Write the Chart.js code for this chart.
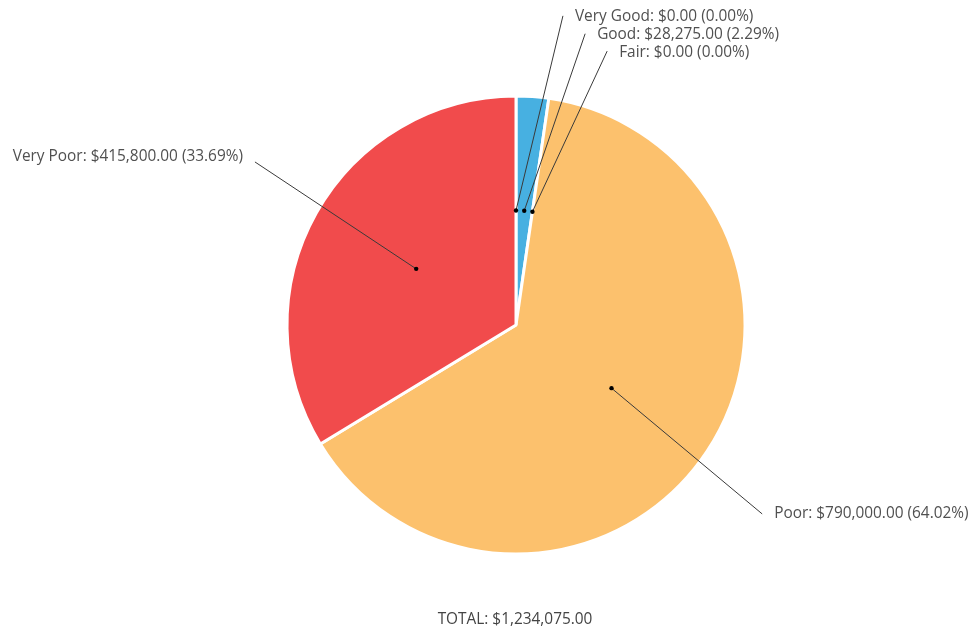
<!DOCTYPE html>
<html>
<head>
	<title></title>
	<script src="https://cdn.jsdelivr.net/npm/chart.js@4.4.1/dist/chart.umd.min.js"></script>
	<style>
		body { margin:0; background:#fff; }
		#holder { width:974px; height:632px; }
	</style>
</head>
<body>
<div id="holder">
	<canvas id="piecanvas" width="974" height="632"></canvas>
</div>
<script>
    var categories = ["Very Good", "Good", "Fair", "Poor", "Very Poor"];
    var amounts = [0, 28275, 0, 790000, 415800];
    var sliceColors = ["#3fa6dc", "#47b0e1", "#8cc63f", "#fcc16d", "#f14b4c"];

    // where each leader line ends, as a fraction of the radius from the centre
    var labelEnds = [[0.205, -1.35], [0.302, -1.272], [0.398, -1.196], [1.075, 0.825], [-1.14, -0.712]];

    var money = function(v) {
        return "$" + v.toLocaleString("en-US", {minimumFractionDigits: 2, maximumFractionDigits: 2});
    };

    var labelPlugin = {
        id: "pieLabels",
        afterDatasetsDraw: function(chart) {
            var ctx = chart.ctx;
            var meta = chart.getDatasetMeta(0);
            var data = chart.data.datasets[0].data;
            var total = data.reduce(function(a, b) { return a + b; }, 0);
            ctx.save();
            ctx.font = "15.4px 'Open Sans'";
            ctx.textBaseline = "middle";
            meta.data.forEach(function(arc, i) {
                var p = arc.getProps(["x", "y", "startAngle", "endAngle", "outerRadius"], true);
                var mid = (p.startAngle + p.endAngle) / 2;
                var dx = p.x + Math.cos(mid) * p.outerRadius * 0.5;
                var dy = p.y + Math.sin(mid) * p.outerRadius * 0.5;
                var ex = p.x + labelEnds[i][0] * p.outerRadius;
                var ey = p.y + labelEnds[i][1] * p.outerRadius;
                ctx.strokeStyle = "#3a3a3a";
                ctx.lineWidth = 1;
                ctx.beginPath();
                ctx.moveTo(dx, dy);
                ctx.lineTo(ex, ey);
                ctx.stroke();
                ctx.fillStyle = "#000";
                ctx.beginPath();
                ctx.arc(dx, dy, 2.2, 0, Math.PI * 2);
                ctx.fill();
                var pct = (data[i] / total * 100).toFixed(2);
                var txt = chart.data.labels[i] + ": " + money(data[i]) + " (" + pct + "%)";
                ctx.fillStyle = "#505050";
                if (ex < p.x) {
                    ctx.textAlign = "right";
                    ctx.fillText(txt, ex - 12, ey - 5);
                } else {
                    ctx.textAlign = "left";
                    ctx.fillText(txt, ex + 12, ey + (i < 3 ? 1 : 0));
                }
            });
            ctx.textAlign = "center";
            ctx.fillStyle = "#444";
            ctx.fillText("TOTAL: " + money(total), 515, 620);
            ctx.restore();
        }
    };

    var config = {
        type: "pie",
        data: {
            labels: categories,
            datasets: [{
                data: amounts,
                backgroundColor: sliceColors,
                borderColor: "#fff",
                borderWidth: 3
            }]
        },
        options: {
            responsive: false,
            animation: false,
            radius: 229,
            layout: { padding: { top: 96, bottom: 78, left: 58, right: 0 } },
            plugins: {
                legend: { display: false },
                tooltip: { enabled: false }
            }
        },
        plugins: [labelPlugin]
    };

    var ctx = document.getElementById("piecanvas").getContext("2d");
    window.myPie = new Chart(ctx, config);
</script>
</body>
</html>
